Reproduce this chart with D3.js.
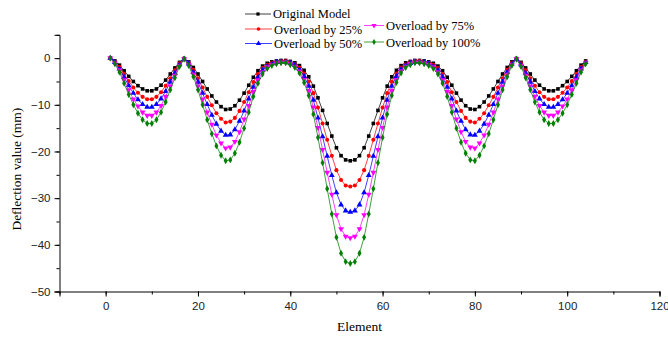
<!DOCTYPE html>
<html>
<head>
<meta charset="utf-8">
<script src="https://cdn.jsdelivr.net/npm/d3@7/dist/d3.min.js"></script>
<style>
  html, body { margin: 0; padding: 0; background: #fff; }
  svg { display: block; }
</style>
</head>
<body>
<svg id="chart" width="668" height="337"></svg>
<script>
// Deflection along the beam elements for the original model and overload cases (mm)
const elements = d3.range(1, 105);

const originalModel = [
  0, -0.6, -1.5, -2.7, -3.9, -5.0, -5.9, -6.6, -7.0, -7.0,
  -6.6, -5.8, -4.7, -3.4, -2.1, -0.9, -0.1, -0.8, -2.0, -3.4,
  -5.0, -6.6, -8.1, -9.4, -10.4, -11.0, -10.9, -10.2, -9.0, -7.5,
  -5.8, -4.1, -2.7, -1.7, -1.1, -0.8, -0.6, -0.5, -0.5, -0.7,
  -1.0, -1.6, -2.6, -4.0, -6.0, -8.5, -11.2, -14.0, -16.7, -19.2,
  -20.9, -21.8, -22.0,
  -21.8, -20.9, -19.2, -16.7, -14.0, -11.2, -8.5, -6.0, -4.0, -2.6,
  -1.6, -1.0, -0.7, -0.5, -0.5, -0.6, -0.8, -1.1, -1.7, -2.7,
  -4.1, -5.8, -7.5, -9.0, -10.2, -10.9, -11.0, -10.4, -9.4, -8.1,
  -6.6, -5.0, -3.4, -2.0, -0.8, -0.1, -0.9, -2.1, -3.4, -4.7,
  -5.8, -6.6, -7.0, -7.0, -6.6, -5.9, -5.0, -3.9, -2.7, -1.5,
  -0.6
];

const overload25 = [
  0, -0.8, -1.9, -3.4, -4.9, -6.3, -7.4, -8.3, -8.8, -8.8,
  -8.3, -7.3, -5.9, -4.3, -2.6, -1.1, -0.1, -1.0, -2.5, -4.3,
  -6.3, -8.3, -10.1, -11.8, -13.0, -13.8, -13.6, -12.8, -11.3, -9.4,
  -7.3, -5.1, -3.4, -2.1, -1.4, -1.0, -0.8, -0.6, -0.6, -0.9,
  -1.3, -2.0, -3.3, -5.0, -7.5, -10.6, -14.0, -17.5, -20.9, -24.0,
  -26.1, -27.3, -27.5,
  -27.3, -26.1, -24.0, -20.9, -17.5, -14.0, -10.6, -7.5, -5.0, -3.3,
  -2.0, -1.3, -0.9, -0.6, -0.6, -0.8, -1.0, -1.4, -2.1, -3.4,
  -5.1, -7.3, -9.4, -11.3, -12.8, -13.6, -13.8, -13.0, -11.8, -10.1,
  -8.3, -6.3, -4.3, -2.5, -1.0, -0.1, -1.1, -2.6, -4.3, -5.9,
  -7.3, -8.3, -8.8, -8.8, -8.3, -7.4, -6.3, -4.9, -3.4, -1.9,
  -0.8
];

const overload50 = [
  0, -0.9, -2.3, -4.1, -5.9, -7.5, -8.9, -9.9, -10.5, -10.5,
  -9.9, -8.7, -7.1, -5.1, -3.2, -1.4, -0.2, -1.2, -3.0, -5.1,
  -7.5, -9.9, -12.2, -14.1, -15.6, -16.5, -16.4, -15.3, -13.5, -11.3,
  -8.7, -6.2, -4.1, -2.6, -1.7, -1.2, -0.9, -0.8, -0.8, -1.1,
  -1.5, -2.4, -3.9, -6.0, -9.0, -12.8, -16.8, -21.0, -25.1, -28.8,
  -31.4, -32.7, -33.0,
  -32.7, -31.4, -28.8, -25.1, -21.0, -16.8, -12.8, -9.0, -6.0, -3.9,
  -2.4, -1.5, -1.1, -0.8, -0.8, -0.9, -1.2, -1.7, -2.6, -4.1,
  -6.2, -8.7, -11.3, -13.5, -15.3, -16.4, -16.5, -15.6, -14.1, -12.2,
  -9.9, -7.5, -5.1, -3.0, -1.2, -0.2, -1.4, -3.2, -5.1, -7.1,
  -8.7, -9.9, -10.5, -10.5, -9.9, -8.9, -7.5, -5.9, -4.1, -2.3,
  -0.9
];

const overload75 = [
  0, -1.1, -2.6, -4.7, -6.8, -8.8, -10.3, -11.6, -12.3, -12.3,
  -11.6, -10.2, -8.2, -6.0, -3.7, -1.6, -0.2, -1.4, -3.5, -6.0,
  -8.8, -11.6, -14.2, -16.5, -18.2, -19.3, -19.1, -17.9, -15.8, -13.1,
  -10.2, -7.2, -4.7, -3.0, -1.9, -1.4, -1.1, -0.9, -0.9, -1.2,
  -1.8, -2.8, -4.6, -7.0, -10.5, -14.9, -19.6, -24.5, -29.2, -33.6,
  -36.6, -38.2, -38.5,
  -38.2, -36.6, -33.6, -29.2, -24.5, -19.6, -14.9, -10.5, -7.0, -4.6,
  -2.8, -1.8, -1.2, -0.9, -0.9, -1.1, -1.4, -1.9, -3.0, -4.7,
  -7.2, -10.2, -13.1, -15.8, -17.9, -19.1, -19.3, -18.2, -16.5, -14.2,
  -11.6, -8.8, -6.0, -3.5, -1.4, -0.2, -1.6, -3.7, -6.0, -8.2,
  -10.2, -11.6, -12.3, -12.3, -11.6, -10.3, -8.8, -6.8, -4.7, -2.6,
  -1.1
];

const overload100 = [
  0, -1.2, -3.0, -5.4, -7.8, -10.0, -11.8, -13.2, -14.0, -14.0,
  -13.2, -11.6, -9.4, -6.8, -4.2, -1.8, -0.2, -1.6, -4.0, -6.8,
  -10.0, -13.2, -16.2, -18.8, -20.8, -22.0, -21.8, -20.4, -18.0, -15.0,
  -11.6, -8.2, -5.4, -3.4, -2.2, -1.6, -1.2, -1.0, -1.0, -1.4,
  -2.0, -3.2, -5.2, -8.0, -12.0, -17.0, -22.4, -28.0, -33.4, -38.4,
  -41.8, -43.6, -44.0,
  -43.6, -41.8, -38.4, -33.4, -28.0, -22.4, -17.0, -12.0, -8.0, -5.2,
  -3.2, -2.0, -1.4, -1.0, -1.0, -1.2, -1.6, -2.2, -3.4, -5.4,
  -8.2, -11.6, -15.0, -18.0, -20.4, -21.8, -22.0, -20.8, -18.8, -16.2,
  -13.2, -10.0, -6.8, -4.0, -1.6, -0.2, -1.8, -4.2, -6.8, -9.4,
  -11.6, -13.2, -14.0, -14.0, -13.2, -11.8, -10.0, -7.8, -5.4, -3.0,
  -1.2
];

const seriesNames = ["Original Model", "Overload by 25%", "Overload by 50%", "Overload by 75%", "Overload by 100%"];
const seriesValues = [originalModel, overload25, overload50, overload75, overload100];

const xTicks = [0, 20, 40, 60, 80, 100, 120];
const yTicks = [0, -10, -20, -30, -40, -50];

// Drawing styles
const colors = ["#000000", "#ff0000", "#0000ff", "#ff00ff", "#008000"];
const symbols = [d3.symbolSquare, d3.symbolCircle, d3.symbolTriangle, d3.symbolTriangle, d3.symbolDiamond];
const symbolSizes = [13, 13, 15, 15, 14];
const symbolRotate = [0, 0, 0, 180, 0];

const svg = d3.select("#chart");

const x = d3.scaleLinear().domain([-10, 120]).range([59.5, 659.5]);
const y = d3.scaleLinear().domain([-50, 5]).range([291.5, 34.8]);

const serif = "'Liberation Serif', 'Times New Roman', serif";
const sans = "'Liberation Sans', Arial, sans-serif";

// X axis with minor ticks
const xAxisG = svg.append("g").attr("transform", `translate(0,${y(-50)})`);
xAxisG.append("g")
  .call(d3.axisBottom(x).tickValues(d3.range(-10, 121, 10)).tickSize(3).tickFormat(""))
  .call(g => g.select(".domain").remove());
xAxisG.append("g")
  .call(d3.axisBottom(x).tickValues(xTicks).tickSize(5).tickPadding(5).tickFormat(d3.format("d")))
  .call(g => g.selectAll("text").attr("font-family", sans).attr("font-size", 11.5).attr("fill", "#222"));
xAxisG.selectAll("line, path").attr("stroke", "#000").attr("stroke-width", 1);

// Y axis with minor ticks
const yAxisG = svg.append("g").attr("transform", `translate(${x(-10)},0)`);
yAxisG.append("g")
  .call(d3.axisLeft(y).tickValues(d3.range(-50, 6, 5)).tickSize(3).tickFormat(""))
  .call(g => g.select(".domain").remove());
yAxisG.append("g")
  .call(d3.axisLeft(y).tickValues(yTicks).tickSize(5).tickPadding(4).tickFormat(d3.format("d")))
  .call(g => g.selectAll("text").attr("font-family", sans).attr("font-size", 11.5).attr("fill", "#222"));
yAxisG.selectAll("line, path").attr("stroke", "#000").attr("stroke-width", 1);

// Axis titles
svg.append("text")
  .attr("x", (x(-10) + x(120)) / 2).attr("y", 331)
  .attr("text-anchor", "middle")
  .attr("font-family", serif).attr("font-size", 13.5)
  .text("Element");

svg.append("text")
  .attr("transform", `translate(21,${(y(5) + y(-50)) / 2 + 6}) rotate(-90)`)
  .attr("text-anchor", "middle")
  .attr("font-family", serif).attr("font-size", 13.5)
  .text("Deflection value (mm)");

// Series lines and markers
const line = d3.line().x((d, i) => x(elements[i])).y(d => y(d));

seriesValues.forEach((vals, s) => {
  const g = svg.append("g");
  g.append("path")
    .datum(vals)
    .attr("d", line)
    .attr("fill", "none")
    .attr("stroke", colors[s])
    .attr("stroke-width", 1)
    .attr("stroke-opacity", 0.75);
  g.selectAll("path.mk")
    .data(vals)
    .join("path")
    .attr("class", "mk")
    .attr("d", d3.symbol().type(symbols[s]).size(symbolSizes[s]))
    .attr("transform", (d, i) => `translate(${x(elements[i])},${y(d)}) rotate(${symbolRotate[s]})`)
    .attr("fill", colors[s]);
});

// Legend
const legendItems = [
  { x0: 245, x1: 271, ly: 14, tx: 273, ty: 18 },
  { x0: 245, x1: 272, ly: 29, tx: 274, ty: 33.5 },
  { x0: 245, x1: 272, ly: 43.5, tx: 274, ty: 48 },
  { x0: 364, x1: 384, ly: 25.5, tx: 386, ty: 30 },
  { x0: 364, x1: 384, ly: 42, tx: 386, ty: 46.5 }
];

legendItems.forEach((p, s) => {
  const g = svg.append("g");
  g.append("line")
    .attr("x1", p.x0).attr("x2", p.x1).attr("y1", p.ly).attr("y2", p.ly)
    .attr("stroke", colors[s]).attr("stroke-width", 1).attr("stroke-opacity", 0.75);
  g.append("path")
    .attr("d", d3.symbol().type(symbols[s]).size(symbolSizes[s] * 0.8))
    .attr("transform", `translate(${(p.x0 + p.x1) / 2},${p.ly}) rotate(${symbolRotate[s]})`)
    .attr("fill", colors[s]);
  g.append("text")
    .attr("x", p.tx).attr("y", p.ty)
    .attr("font-family", serif).attr("font-size", 12.5)
    .attr("fill", "#000")
    .text(seriesNames[s]);
});
</script>
</body>
</html>
